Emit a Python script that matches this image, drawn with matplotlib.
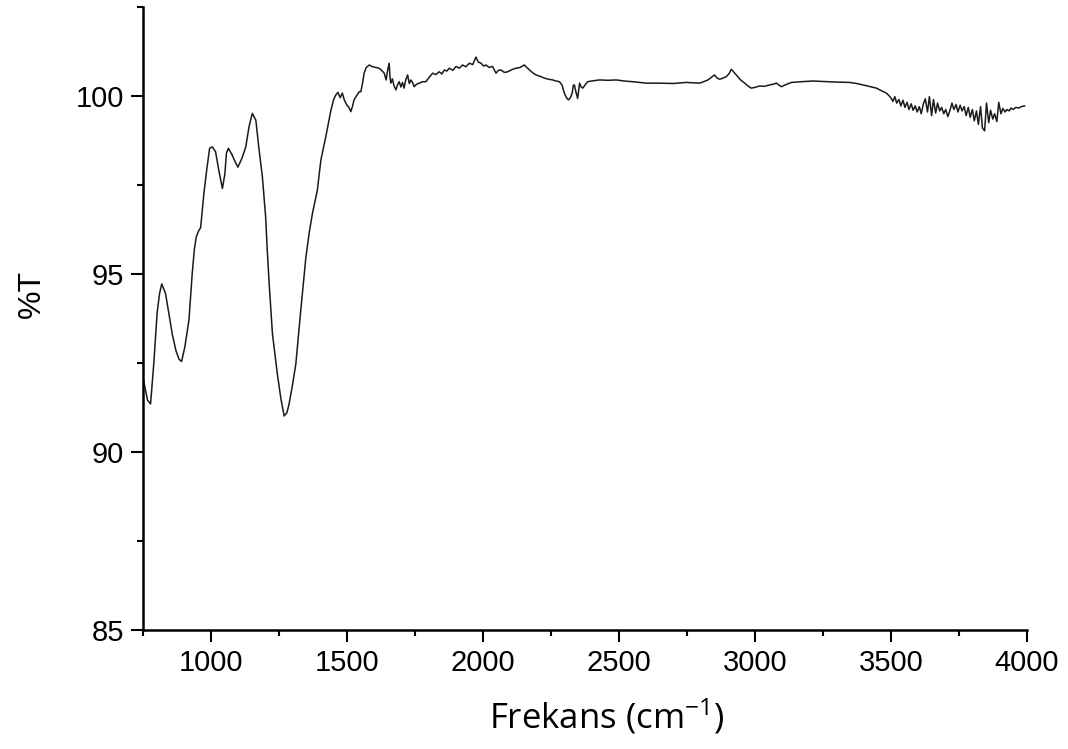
import matplotlib
matplotlib.use("Agg")
import matplotlib.pyplot as plt
from matplotlib.ticker import MultipleLocator

# FTIR spectrum, read point by point
wavenumber = [
    752, 760, 768, 779, 791, 803, 812, 820, 834, 846, 859, 872, 884, 893, 905, 920,
    932, 940, 947, 955, 963, 975, 985, 996, 1006, 1018, 1030, 1043, 1052, 1058, 1065,
    1079, 1090, 1100, 1115, 1129, 1141, 1153, 1166, 1178, 1190, 1202, 1208, 1215, 1227,
    1245, 1258, 1270, 1280, 1288, 1300, 1313, 1331, 1350, 1362, 1374, 1392, 1405, 1423,
    1442, 1452, 1460, 1468, 1476, 1484, 1491, 1500, 1508, 1515, 1521, 1527, 1534, 1540,
    1546, 1552, 1558, 1564, 1572, 1583, 1595, 1607, 1619, 1628, 1638, 1645, 1650, 1656,
    1659, 1662, 1668, 1674, 1681, 1687, 1693, 1699, 1705, 1711, 1717, 1724, 1730, 1736,
    1742, 1748, 1757, 1767, 1779, 1791, 1803, 1816, 1828, 1840, 1850, 1859, 1868, 1877,
    1890, 1902, 1914, 1926, 1938, 1951, 1963, 1975, 1984, 1994, 2003, 2012, 2024, 2036,
    2049, 2058, 2067, 2080, 2092, 2107, 2122, 2137, 2153, 2162, 2172, 2184, 2196, 2212,
    2227, 2242, 2257, 2270, 2282, 2292, 2300, 2308, 2315, 2322, 2329, 2333, 2337, 2343,
    2349, 2352, 2356, 2362, 2368, 2377, 2386, 2400, 2429, 2460, 2491, 2520, 2552, 2575,
    2601, 2650, 2700, 2748, 2797, 2812, 2828, 2840, 2852, 2862, 2871, 2883, 2895, 2905,
    2914, 2922, 2932, 2948, 2963, 2975, 2987, 3000, 3018, 3035, 3055, 3068, 3080, 3090,
    3098, 3115, 3135, 3170, 3214, 3240, 3264, 3300, 3349, 3375, 3398, 3420, 3447, 3465,
    3484, 3492, 3500, 3508, 3515, 3522, 3530, 3537, 3545, 3552, 3560, 3567, 3575, 3582,
    3590, 3597, 3605, 3612, 3620, 3627, 3635, 3642, 3650, 3657, 3665, 3672, 3680, 3687,
    3695, 3702, 3710, 3717, 3725, 3732, 3740, 3747, 3755, 3762, 3770, 3777, 3785, 3792,
    3800, 3807, 3815, 3822, 3830, 3837, 3845, 3852, 3860, 3867, 3875, 3882, 3890, 3897,
    3905, 3912, 3920, 3927, 3935, 3942, 3950, 3960, 3970, 3980, 3992,
]
transmittance = [
    92.05, 91.75, 91.45, 91.35, 92.50, 93.90, 94.45, 94.72, 94.45, 93.90, 93.30, 92.85,
    92.60, 92.54, 92.95, 93.70, 95.00, 95.70, 96.04, 96.20, 96.30, 97.26, 97.90, 98.53,
    98.57, 98.43, 97.90, 97.40, 97.80, 98.40, 98.53, 98.34, 98.15, 98.00, 98.25, 98.57,
    99.14, 99.51, 99.32, 98.48, 97.73, 96.60, 95.66, 94.72, 93.32, 92.19, 91.50, 91.01,
    91.10, 91.34, 91.85, 92.47, 93.97, 95.47, 96.15, 96.70, 97.35, 98.20, 98.85, 99.60,
    99.90, 100.03, 100.10, 99.95, 100.08, 99.89, 99.75, 99.68, 99.56, 99.70, 99.89, 99.98,
    100.05, 100.12, 100.12, 100.35, 100.64, 100.80, 100.87, 100.82, 100.80, 100.78, 100.72,
    100.64, 100.45, 100.70, 100.92, 100.55, 100.36, 100.48, 100.28, 100.17, 100.32, 100.40,
    100.25, 100.38, 100.22, 100.45, 100.59, 100.35, 100.45, 100.38, 100.26, 100.33, 100.36,
    100.40, 100.40, 100.52, 100.64, 100.60, 100.68, 100.62, 100.73, 100.70, 100.78, 100.72,
    100.83, 100.78, 100.87, 100.82, 100.92, 100.88, 101.09, 100.95, 100.92, 100.84, 100.87,
    100.80, 100.83, 100.64, 100.72, 100.73, 100.66, 100.68, 100.74, 100.78, 100.80, 100.87,
    100.80, 100.73, 100.65, 100.59, 100.55, 100.50, 100.47, 100.45, 100.42, 100.40, 100.30,
    100.08, 99.95, 99.89, 99.95, 100.08, 100.30, 100.31, 100.10, 99.93, 100.12, 100.36,
    100.25, 100.22, 100.32, 100.40, 100.42, 100.45, 100.44, 100.45, 100.42, 100.40, 100.38,
    100.36, 100.36, 100.35, 100.38, 100.36, 100.40, 100.45, 100.52, 100.59, 100.50, 100.47,
    100.50, 100.54, 100.62, 100.75, 100.68, 100.59, 100.45, 100.36, 100.28, 100.22, 100.24,
    100.28, 100.27, 100.31, 100.33, 100.36, 100.30, 100.26, 100.32, 100.38, 100.40, 100.42,
    100.41, 100.40, 100.39, 100.38, 100.35, 100.31, 100.27, 100.22, 100.15, 100.08, 100.02,
    99.95, 99.85, 99.98, 99.80, 99.90, 99.72, 99.88, 99.68, 99.82, 99.62, 99.78, 99.60,
    99.72, 99.55, 99.70, 99.50, 99.78, 99.92, 99.55, 99.98, 99.45, 99.90, 99.52, 99.80,
    99.58, 99.68, 99.50, 99.62, 99.42, 99.58, 99.80, 99.62, 99.76, 99.55, 99.74, 99.58,
    99.70, 99.45, 99.68, 99.40, 99.62, 99.30, 99.58, 99.20, 99.70, 99.10, 99.02, 99.80,
    99.25, 99.60, 99.35, 99.50, 99.28, 99.82, 99.50, 99.65, 99.55, 99.62, 99.58, 99.66,
    99.62, 99.68, 99.66, 99.70, 99.72,
]

plt.rcParams["font.family"] = ["Liberation Sans", "DejaVu Sans"]
plt.rcParams["mathtext.fontset"] = "custom"
plt.rcParams["mathtext.rm"] = "Open Sans"
plt.rcParams["mathtext.it"] = "Open Sans"

fig = plt.figure(figsize=(10.68, 7.49), dpi=100)
ax = fig.add_axes([0.1336, 0.159, 0.8278, 0.8317])

ax.plot(wavenumber, transmittance, color="#1a1a1a", linewidth=1.1)

ax.set_xlim(750, 4000)
ax.set_ylim(85, 102.5)
ax.xaxis.set_major_locator(MultipleLocator(500))
ax.xaxis.set_minor_locator(MultipleLocator(250))
ax.yaxis.set_major_locator(MultipleLocator(5))
ax.yaxis.set_minor_locator(MultipleLocator(2.5))
ax.set_xticks([1000, 1500, 2000, 2500, 3000, 3500, 4000])

for side in ("top", "right"):
    ax.spines[side].set_visible(False)
for side in ("left", "bottom"):
    ax.spines[side].set_linewidth(1.8)

ax.tick_params(which="major", direction="out", length=8.5, width=1.5, labelsize=21, pad=5)
ax.tick_params(which="minor", direction="out", length=4.5, width=1.5)

ax.set_xlabel(r"Frekans (cm$^{-1}$)", fontsize=25, family="Open Sans")
ax.set_ylabel("%T", fontsize=23)
ax.xaxis.set_label_coords(0.5247, -0.108)
ax.yaxis.set_label_coords(-0.108, 0.54)

fig.savefig("out.png", dpi=100)
